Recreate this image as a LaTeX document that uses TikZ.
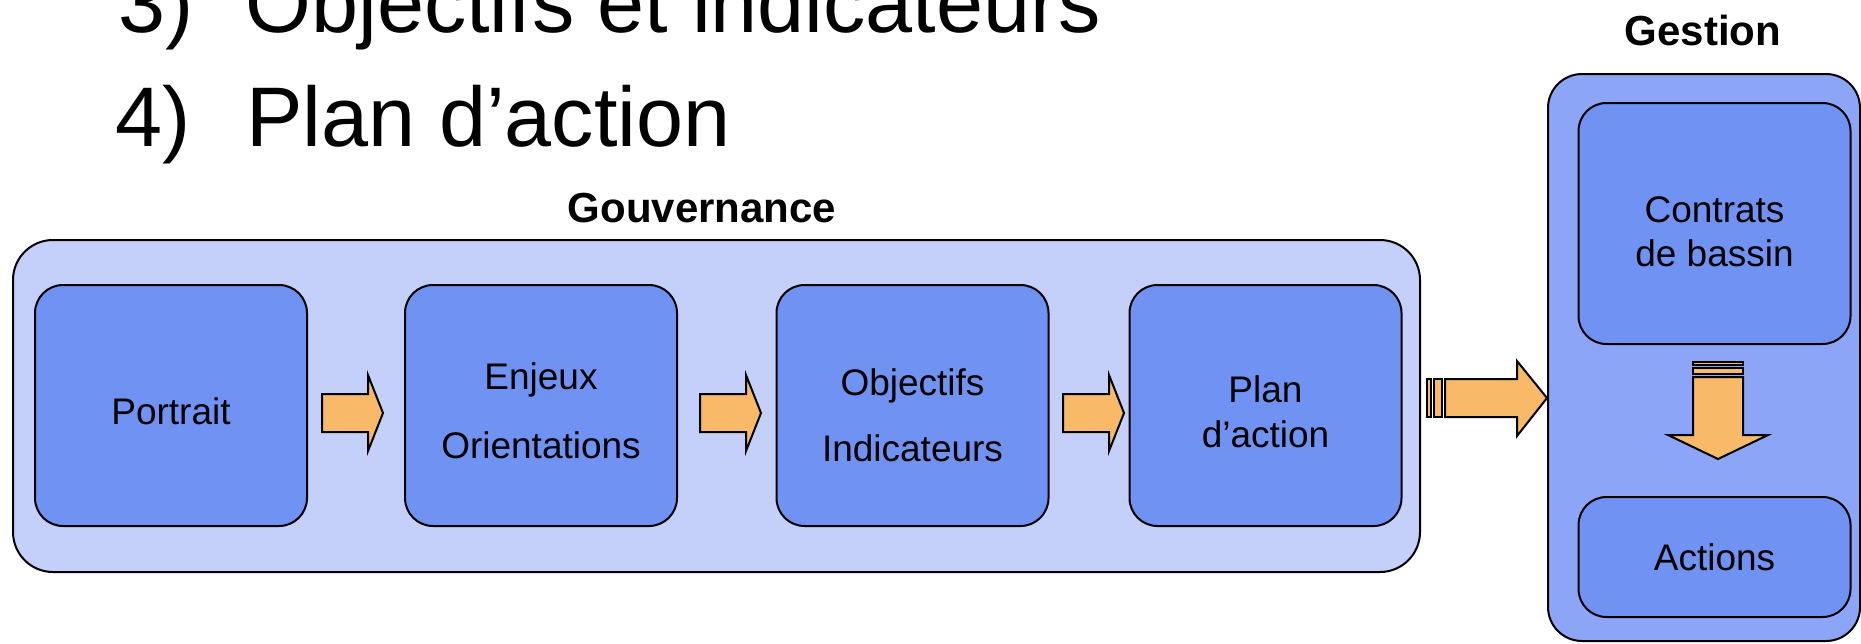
\documentclass[tikz,border=0pt]{standalone}
\usepackage{fontspec}
\setmainfont{Liberation Sans}
\usepackage{tikz}

\definecolor{fondclair}{RGB}{196,208,250}
\definecolor{fondmoyen}{RGB}{140,165,246}
\definecolor{boite}{RGB}{112,146,242}
\definecolor{fleche}{RGB}{248,186,104}

% strut that lowers the text of a box
\newcommand{\cale}[1]{\rule{0pt}{#1}}

\tikzset{
  outbox/.style={draw, line width=1pt, fill=fondclair, rounded corners=20pt},
  inbox/.style={draw, line width=1pt, fill=boite, rounded corners=14pt,
    minimum width=136pt, minimum height=120.5pt, inner sep=0pt,
    align=center, font=\fontsize{18.5}{22.2}\selectfont},
  titre/.style={font=\fontsize{21}{25}\selectfont\bfseries, inner sep=0pt, anchor=base},
  grand/.style={font=\fontsize{42.3}{50}\selectfont, inner sep=0pt, anchor=base west},
  bloc/.style={draw, line width=1pt, fill=fleche, line join=miter}
}

\begin{document}
\begin{tikzpicture}[x=0.5pt,y=-0.5pt]
  %\draw (0,0) grid (1861,643);
  \useasboundingbox (0,0) rectangle (1861,643);

  \begin{scope}
    \clip (0,0) rectangle (1861,643);
    \node[grand] (num3) at (118,32) {3)};
    \node[grand] (ligne3) at (245,32) {Objectifs et indicateurs};
    \node[grand] (num4) at (115,146) {4)};
    \node[grand] (ligne4) at (246,146) {Plan d’action};
  \end{scope}

  % Gouvernance
  \node[outbox, minimum width=703.5pt, minimum height=166pt] (gouv) at (716.5,406) {};
  \node[titre] (gouvlab) at (702,222) {Gouvernance};
  \node[inbox] (portrait) at (171,405.5) {\cale{19.5pt}Portrait};
  \node[inbox] (enjeux) at (541,405.5) {\cale{18.5pt}Enjeux\\[12pt]Orientations};
  \node[inbox] (objectifs) at (912.5,405.5) {\cale{23pt}Objectifs\\[11pt]Indicateurs};
  \node[inbox] (plan) at (1265.5,405.5) {\cale{19.5pt}Plan\\d’action};
  \foreach \x in {322,700,1063}
    \draw[bloc] (\x,394) -- ++(46,0) -- ++(0,-19) -- ++(15,38) -- ++(-15,38) -- ++(0,-19) -- ++(-46,0) -- cycle;

  % Gestion
  \node[outbox, fill=fondmoyen, rounded corners=17pt, minimum width=156pt, minimum height=283.5pt] (gest) at (1704,357.5) {};
  \node[titre] (gestlab) at (1703,45) {Gestion};
  \node[inbox] (contrats) at (1714.5,223.5) {\cale{21pt}Contrats\\de bassin};
  \node[inbox, minimum height=60pt] (actions) at (1714.5,557) {Actions};
  \draw[bloc] (1693,362) rectangle (1743,365);
  \draw[bloc] (1693,368) rectangle (1743,374);
  \draw[bloc] (1693,377) -- (1743,377) -- (1743,435) -- (1768,435) -- (1718,459) -- (1668,435) -- (1693,435) -- cycle;

  \draw[bloc] (1427,379) rectangle (1431,417);
  \draw[bloc] (1434,379) rectangle (1442,417);
  \draw[bloc] (1445,379) -- (1517,379) -- (1517,361) -- (1547,398) -- (1517,436) -- (1517,417) -- (1445,417) -- cycle;
\end{tikzpicture}
\end{document}
